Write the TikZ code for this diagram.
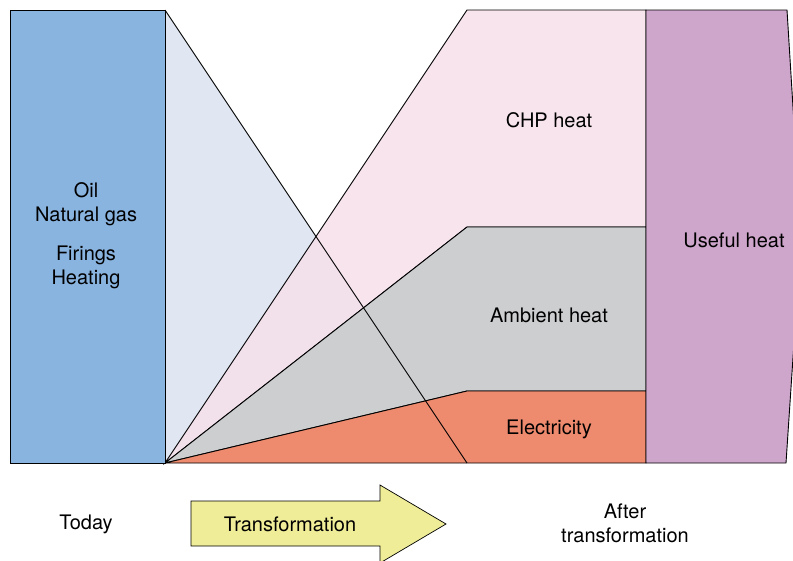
\documentclass[tikz,border=0pt]{standalone}
\usepackage{fontspec}
\setmainfont{TeX Gyre Heros}
\definecolor{cblue}{HTML}{8AB4E0}
\definecolor{clight}{HTML}{E0E6F2}
\definecolor{cpink}{HTML}{F6DFE9}
\definecolor{cgray}{HTML}{CDCED0}
\definecolor{corange}{HTML}{EE8A6E}
\definecolor{cpurple}{HTML}{CEA6CB}
\definecolor{cyellow}{HTML}{EFED98}
\tikzset{
  region/.style={draw=black, line width=0.9pt, line join=miter},
  lbl/.style={font=\fontsize{20}{24}\selectfont, align=center, text=black, inner sep=0pt},
}
\begin{document}
\begin{tikzpicture}[x=1pt,y=-1pt]
\useasboundingbox (0,0) rectangle (793,560);
\clip (0,0) rectangle (793,560);
% coordinates
\coordinate (O) at (165,463);
\coordinate (BT) at (165,10);
\coordinate (D) at (467,463);
\coordinate (P1) at (467,10);
\coordinate (P2) at (646,10);
\coordinate (P3) at (646,227);
\coordinate (P4) at (467,227);
\coordinate (G3) at (646,391);
\coordinate (G4) at (467,391);
\coordinate (E3) at (646,463);
% light blue triangle
\fill[clight] (BT) -- (D) -- (O) -- cycle;
% pink
\path[region, fill=cpink, fill opacity=0.85] (O) -- (P1) -- (P2) -- (P3) -- (P4) -- cycle;
% gray
\path[region, fill=cgray] (O) -- (P4) -- (P3) -- (G3) -- (G4) -- cycle;
% orange
\path[region, fill=corange] (O) -- (G4) -- (G3) -- (E3) -- cycle;
% diagonal line
\draw[line width=0.9pt] (BT) -- (D);
% blue rect
\path[region, fill=cblue] (10,10) rectangle (165,463);
% purple
\path[region, fill=cpurple] (646,10) -- (787,10) -- (801,237) -- (786,463) -- (646,463) -- cycle;
% arrow
\path[region, fill=cyellow, line width=0.7pt] (191,501) -- (380,501) -- (380,485) -- (446,524) -- (380,563) -- (380,546) -- (191,546) -- cycle;
% labels
\node[lbl] (src) at (86,204) {Oil\\Natural gas};
\node[lbl] (use) at (86,267) {Firings\\Heating};
\node[lbl] (chp) at (549,120) {CHP heat};
\node[lbl] (amb) at (549,315) {Ambient heat};
\node[lbl] (ele) at (549,429) {Electricity};
\node[lbl] (usf) at (734,240) {Useful heat};
\node[lbl] (tod) at (86,524) {Today};
\node[lbl] (trf) at (290,524) {Transformation};
\node[lbl] (aft) at (625,523) {After\\transformation};
\end{tikzpicture}
\end{document}
